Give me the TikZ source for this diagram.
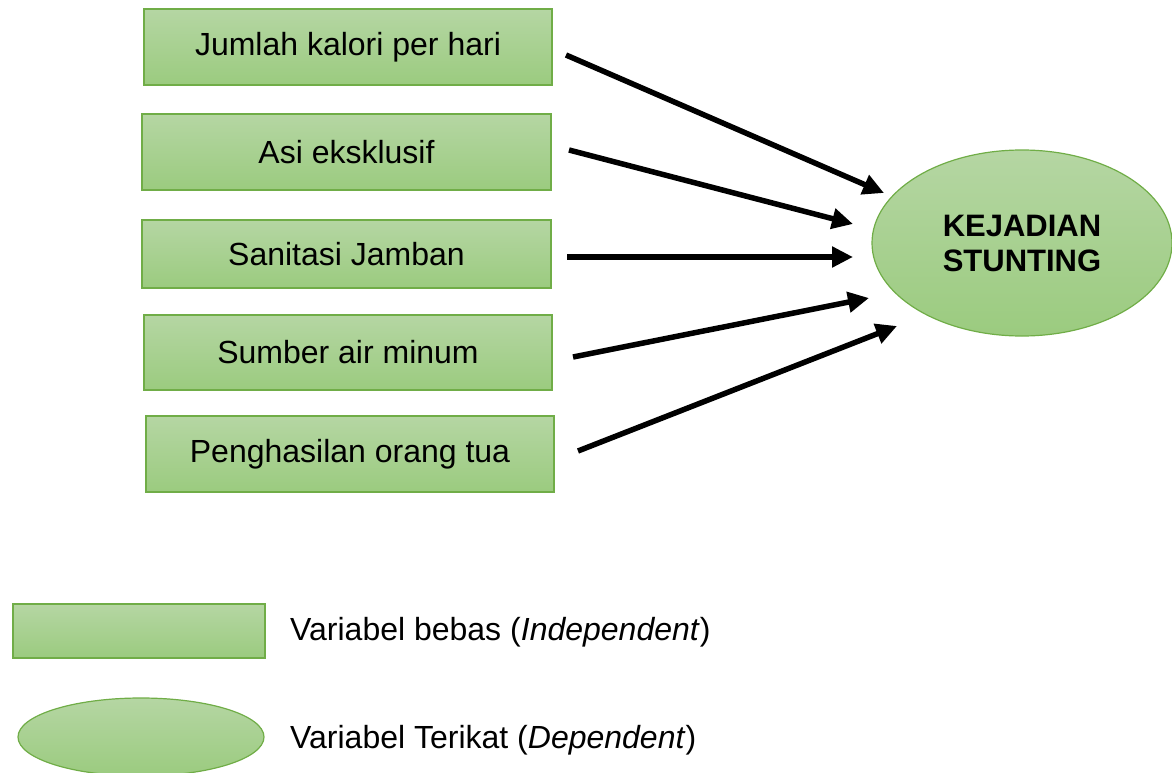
\documentclass[tikz,border=0pt]{standalone}
\usepackage{fontspec}
\setmainfont{Liberation Sans}
\usetikzlibrary{arrows.meta,shapes.geometric}
\definecolor{gtop}{HTML}{B5D6A3}
\definecolor{gbot}{HTML}{9BCB7F}
\definecolor{gline}{HTML}{70AD47}
\tikzset{
  varbox/.style={rectangle, draw=gline, line width=1.2pt, top color=gtop, bottom color=gbot,
    inner sep=0pt, outer sep=0pt, font=\fontsize{32}{36}\selectfont},
  depell/.style={ellipse, draw=gline, line width=1.2pt, top color=gtop, bottom color=gbot,
    inner sep=0pt, outer sep=0pt, align=center, font=\fontsize{31}{35}\selectfont\bfseries},
  arr/.style={line width=5.5pt, -{Triangle[length=21pt,width=20pt]}},
  legtext/.style={anchor=west, inner sep=0pt, font=\fontsize{32}{36}\selectfont}
}
\begin{document}
\begin{tikzpicture}[x=1pt,y=-1pt]
\useasboundingbox (0,0) rectangle (1172,773);
\begin{scope}
\clip (0,0) rectangle (1172,773);
\node[varbox, minimum width=408pt, minimum height=76pt] (b1) at (348,47) {Jumlah kalori per hari};
\node[varbox, minimum width=409pt, minimum height=76pt] (b2) at (346.5,152) {Asi eksklusif};
\node[varbox, minimum width=409pt, minimum height=68pt] (b3) at (346.5,254) {Sanitasi Jamban};
\node[varbox, minimum width=408pt, minimum height=75pt] (b4) at (348,352.5) {Sumber air minum};
\node[varbox, minimum width=408pt, minimum height=76pt] (b5) at (350,454) {Penghasilan orang tua};
\node[depell, minimum width=300pt, minimum height=186pt] (dep) at (1022,243) {KEJADIAN\\STUNTING};

\coordinate (s1) at (566,55);  \coordinate (e1) at (884,193);
\coordinate (s2) at (569,150); \coordinate (e2) at (853,224);
\coordinate (s3) at (567,257); \coordinate (e3) at (853,257);
\coordinate (s4) at (573,357); \coordinate (e4) at (869,298);
\coordinate (s5) at (578,451); \coordinate (e5) at (897,326);
\draw[arr] (s1) -- (e1);
\draw[arr] (s2) -- (e2);
\draw[arr] (s3) -- (e3);
\draw[arr] (s4) -- (e4);
\draw[arr] (s5) -- (e5);

\node[varbox, minimum width=252pt, minimum height=54pt] (lrect) at (139,631) {};
\node[depell, minimum width=246pt, minimum height=78pt] (lell) at (141,737) {};
\node[legtext] (lt1) at (290,632) {Variabel bebas (\textit{Independent})};
\node[legtext] (lt2) at (290,740) {Variabel Terikat (\textit{Dependent})};
\end{scope}
\end{tikzpicture}
\end{document}
